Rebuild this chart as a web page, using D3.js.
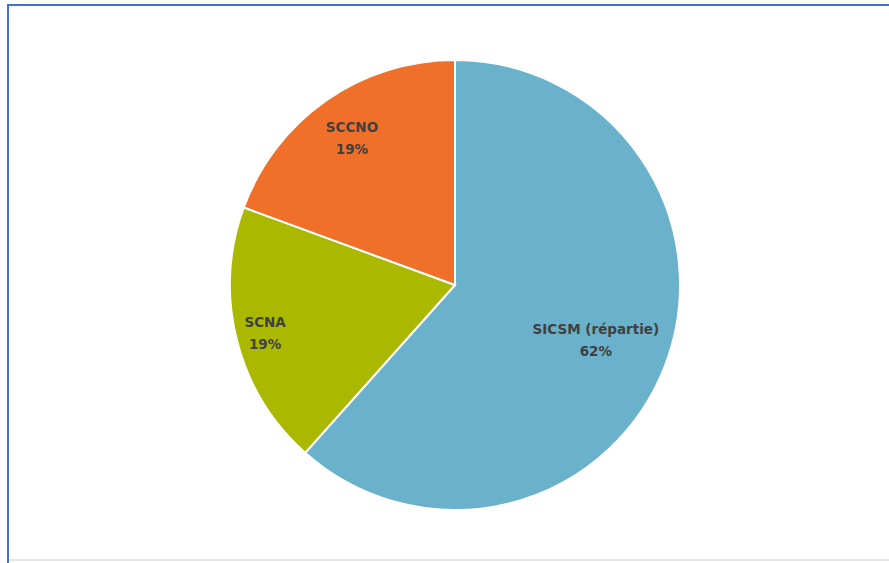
<!DOCTYPE html>
<html>
<head>
<meta charset="utf-8">
<script src="https://cdn.jsdelivr.net/npm/d3@7"></script>
<style>
  body { margin: 0; background: #fff; }
  svg { display: block; }
</style>
</head>
<body>
<svg id="canvas" width="889" height="563"></svg>
<script>
let labels = ['SICSM (répartie)', 'SCNA', 'SCCNO']
let values = [61.6, 19.0, 19.4]
let colors = ['#6AB1CB', '#AAB800', '#F0702A']

let width = 889
let height = 563
let radius = 225
let cx = 455
let cy = 285

let canvas = d3.select('#canvas')

// frame: blue top/left, faint grey bottom
canvas.append('line')
    .attr('x1', 7).attr('y1', 5).attr('x2', width).attr('y2', 5)
    .attr('stroke', '#4472C4').attr('stroke-width', 2)
canvas.append('line')
    .attr('x1', 8).attr('y1', 4).attr('x2', 8).attr('y2', height)
    .attr('stroke', '#4472C4').attr('stroke-width', 2)
canvas.append('line')
    .attr('x1', 9).attr('y1', 560).attr('x2', width).attr('y2', 560)
    .attr('stroke', '#e6e6e6').attr('stroke-width', 2)

let data = labels.map((l, i) => ({label: l, value: values[i], color: colors[i]}))

let pie = d3.pie()
    .sort(null)
    .value((d) => d.value)

let arc = d3.arc()
    .innerRadius(0)
    .outerRadius(radius)

let g = canvas.append('g')
    .attr('transform', 'translate(' + cx + ', ' + cy + ')')

let arcs = pie(data)

g.selectAll('path')
    .data(arcs)
    .enter()
    .append('path')
    .attr('d', arc)
    .attr('fill', (d) => d.data.color)
    .attr('stroke', '#fff')
    .attr('stroke-width', 2)

// how far out each label sits (fraction of radius)
let labelRadius = [0.67, 0.87, 0.8]

let txt = g.selectAll('text')
    .data(arcs)
    .enter()
    .append('text')
    .attr('transform', (d, i) => {
        let a = (d.startAngle + d.endAngle) / 2
        let r = radius * labelRadius[i]
        return 'translate(' + (Math.sin(a) * r) + ', ' + (-Math.cos(a) * r) + ')'
    })
    .attr('text-anchor', 'middle')
    .attr('font-family', 'DejaVu Sans, sans-serif')
    .attr('font-size', 13.5)
    .attr('font-weight', 'bold')
    .attr('fill', '#404040')

txt.append('tspan')
    .attr('x', 0)
    .attr('y', -5)
    .text((d) => d.data.label)
txt.append('tspan')
    .attr('x', 0)
    .attr('y', 17)
    .text((d) => Math.round(d.data.value) + '%')
</script>
</body>
</html>
